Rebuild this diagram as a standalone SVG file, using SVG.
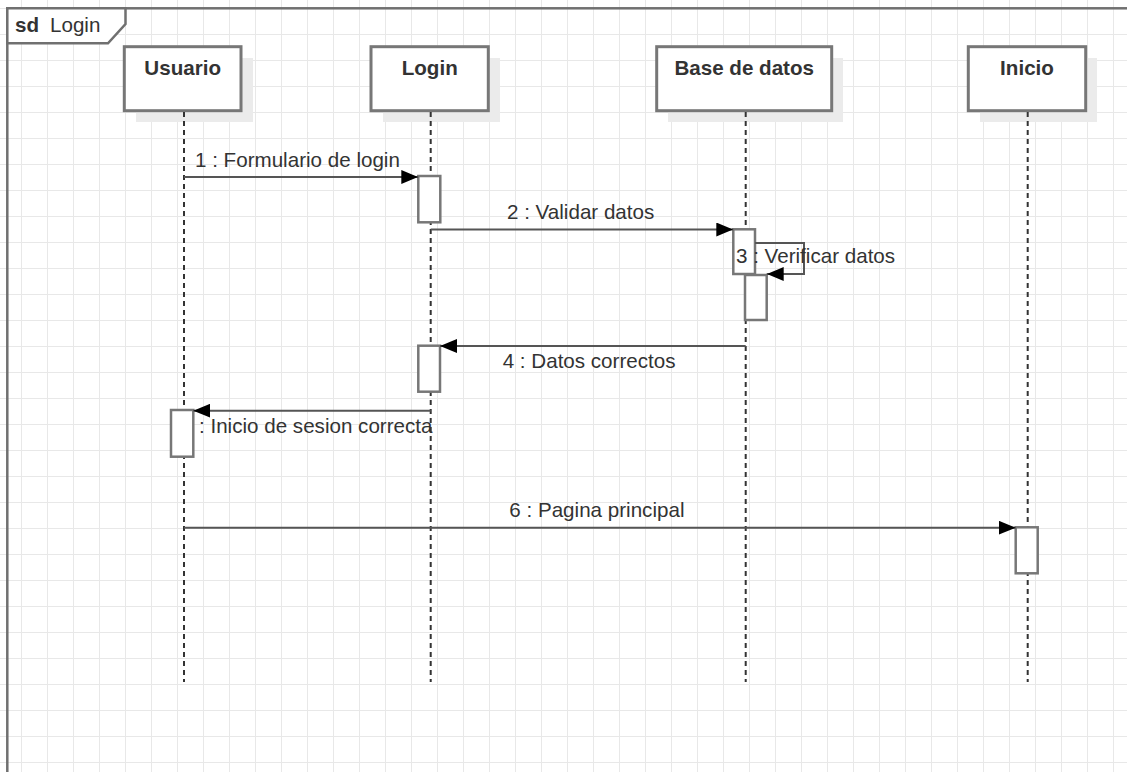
<svg xmlns="http://www.w3.org/2000/svg" width="1127" height="772" viewBox="0 0 1127 772">
<style>
.txt{font-family:"Liberation Sans",Arial,sans-serif;font-size:20.6px;fill:#333}
.bold{font-weight:bold}
.head{fill:#fff;stroke:#777;stroke-width:3}
.shadow{fill:#ebebeb;stroke:none}
.life{stroke:#333;stroke-width:2;stroke-dasharray:5 4;fill:none}
.act{fill:#fff;stroke:#777;stroke-width:2.5}
.msg{stroke:#555;stroke-width:2;fill:none}
.frame{stroke:#707070;stroke-width:2.5}
</style>
<defs>
<pattern id="grid" x="21" y="8" width="26" height="26" patternUnits="userSpaceOnUse">
<path d="M0.5 0 V26 M0 0.5 H26" stroke="#e8e8e8" stroke-width="1" fill="none"/>
</pattern>
<marker id="arr" markerUnits="userSpaceOnUse" markerWidth="17" markerHeight="14" refX="17" refY="7" orient="auto">
<path d="M0,0 L17,7 L0,14 Z" fill="#000"/>
</marker>
</defs>
<rect width="1127" height="772" fill="#fff"/>
<rect width="1127" height="772" fill="url(#grid)"/>
<g id="frame">
<rect class="frame" x="7.3" y="8.3" width="1140" height="790" fill="none"/>
<path class="frame" d="M7.3 8.3 H125.5 V24 L108 43.3 H7.3 Z" fill="#fff"/>
<text class="txt" y="32"><tspan class="bold" x="15">sd</tspan><tspan x="50">Login</tspan></text>
</g>
<g id="usuario">
<rect class="shadow" x="136" y="58" width="117" height="64"/>
<rect class="head" x="124.3" y="46.7" width="116.7" height="64"/>
<text class="txt bold" x="182.7" y="75" text-anchor="middle">Usuario</text>
<line class="life" x1="184" y1="112" x2="184" y2="682"/>
<rect class="act" x="171" y="410" width="22.3" height="46.7"/>
</g>
<g id="login">
<rect class="shadow" x="383" y="58" width="117" height="64"/>
<rect class="head" x="371" y="46.7" width="117.3" height="64"/>
<text class="txt bold" x="429.7" y="75" text-anchor="middle">Login</text>
<line class="life" x1="430.7" y1="112" x2="430.7" y2="682"/>
<rect class="act" x="418.3" y="176" width="22" height="46.3"/>
<rect class="act" x="418.3" y="345.7" width="21.7" height="46"/>
</g>
<g id="base-de-datos">
<rect class="shadow" x="668" y="58" width="175" height="64"/>
<rect class="head" x="656.7" y="46.7" width="175" height="64"/>
<text class="txt bold" x="744.2" y="75" text-anchor="middle">Base de datos</text>
<line class="life" x1="745.7" y1="112" x2="745.7" y2="682"/>
<rect class="act" x="733.3" y="229.3" width="21.7" height="44.7"/>
<rect class="act" x="745" y="275" width="21.7" height="45"/>
</g>
<g id="inicio">
<rect class="shadow" x="980" y="58" width="117" height="64"/>
<rect class="head" x="968.3" y="46.7" width="117.4" height="64"/>
<text class="txt bold" x="1027" y="75" text-anchor="middle">Inicio</text>
<line class="life" x1="1027.7" y1="112" x2="1027.7" y2="682"/>
<rect class="act" x="1015.7" y="527.3" width="22" height="46"/>
</g>
<g id="connectors">
<path class="msg" d="M184 177 H418.3" marker-end="url(#arr)"/>
<text class="txt" x="195" y="166.7">1 : Formulario de login</text>
<path class="msg" d="M430.7 229.5 H733.3" marker-end="url(#arr)"/>
<text class="txt" x="507" y="219">2 : Validar datos</text>
<path class="msg" d="M755 243 H804 V274 H766.7" marker-end="url(#arr)"/>
<text class="txt" x="736" y="263">3 : Verificar datos</text>
<path class="msg" d="M745.7 346 H440" marker-end="url(#arr)"/>
<text class="txt" x="502.7" y="368.3">4 : Datos correctos</text>
<path class="msg" d="M430.7 410.7 H193.3" marker-end="url(#arr)"/>
<text class="txt" x="199" y="433.3">: Inicio de sesion correcta</text>
<path class="msg" d="M184 527.7 H1015.7" marker-end="url(#arr)"/>
<text class="txt" x="509.3" y="516.7">6 : Pagina principal</text>
</g>
</svg>
